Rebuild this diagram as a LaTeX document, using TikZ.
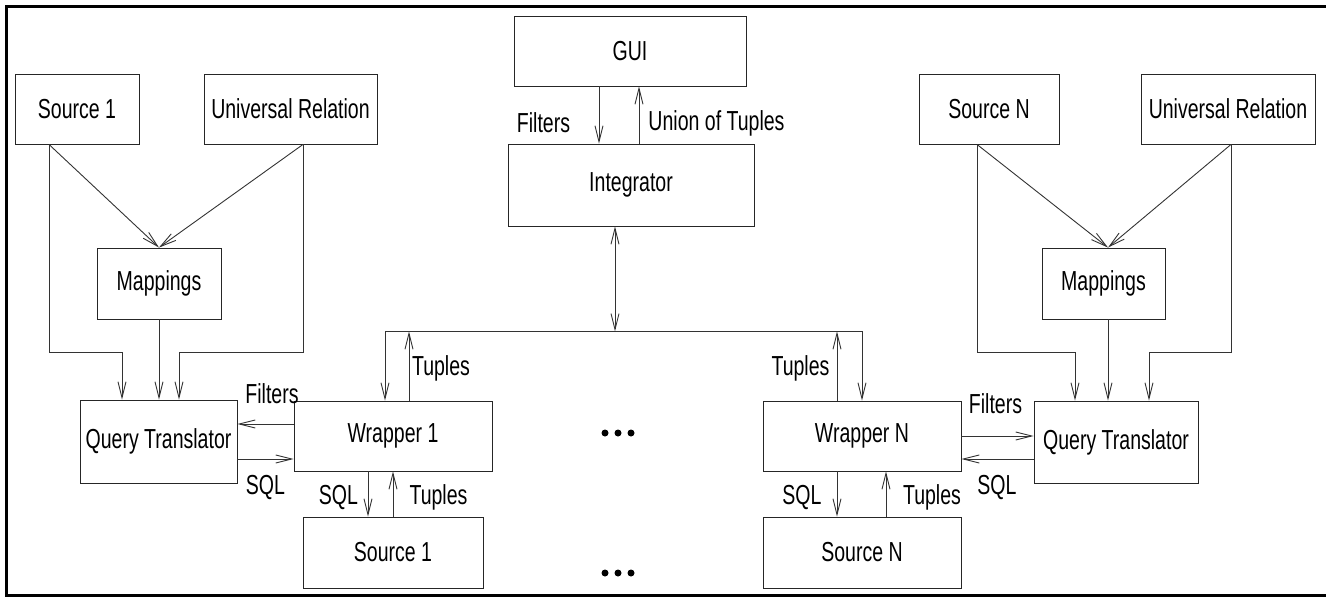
\documentclass[tikz,border=0pt]{standalone}
\usepackage{fontspec}
\setmainfont{Liberation Sans}[FakeStretch=0.71]
\usetikzlibrary{arrows.meta,calc}
\begin{document}
\begin{tikzpicture}[x=1pt,y=-1pt,
  txt/.style={font=\fontsize{27.5}{29}\selectfont},
  box/.style={txt,draw=black!85,line width=0.9pt,inner sep=0pt},
  lbl/.style={txt,inner sep=0pt},
  conn/.style={draw=black!80,line width=0.9pt},
  tip/.tip={Straight Barb[length=16pt,width=8pt]},
  arr/.style={conn,-tip},
  darr/.style={conn,tip-tip},
  frameline/.style={line width=3pt,black}]
\useasboundingbox (0,0) rectangle (1326,597);

% outer frame (left, top and bottom)
\draw[frameline] (1326,6) -- (6,6) -- (6,595) -- (1326,595);

% ---- boxes ----
\node[box,minimum width=232pt,minimum height=70pt] (GUI) at (630,51) {GUI};
\node[box,minimum width=246pt,minimum height=82pt] (Int) at (631,185) {Integrator};

\node[box,minimum width=124pt,minimum height=70pt] (S1t) at (77,109) {Source 1};
\node[box,minimum width=173pt,minimum height=70pt] (UR1) at (290.5,109) {Universal Relation};
\node[box,minimum width=124pt,minimum height=71pt] (Map1) at (159,283.5) {Mappings};
\node[box,minimum width=157pt,minimum height=83pt] (QT1) at (158.5,441.5) {Query Translator};
\node[box,minimum width=198pt,minimum height=70pt] (W1) at (393,436) {Wrapper 1};
\node[box,minimum width=180pt,minimum height=71pt] (S1b) at (393,552.5) {Source 1};

\node[box,minimum width=140pt,minimum height=70pt] (SNt) at (989,109) {Source N};
\node[box,minimum width=174pt,minimum height=70pt] (URN) at (1228,109) {Universal Relation};
\node[box,minimum width=123pt,minimum height=71pt] (MapN) at (1103.5,283.5) {Mappings};
\node[box,minimum width=164pt,minimum height=82pt] (QTN) at (1116,442) {Query Translator};
\node[box,minimum width=198pt,minimum height=70pt] (WN) at (862,436) {Wrapper N};
\node[box,minimum width=198pt,minimum height=71pt] (SNb) at (862,552.5) {Source N};

% ---- GUI <-> Integrator ----
\coordinate (gf) at ($(GUI.south)+(-31,0)$);
\coordinate (gu) at ($(GUI.south)+(9,0)$);
\draw[arr] (gf) -- (gf |- Int.north);
\draw[arr] (gu |- Int.north) -- (gu);
\node[lbl] (lgf) at (543.5,123) {Filters};
\node[lbl] (lgu) at (716.5,123) {Union of Tuples};

% ---- Integrator <-> bus ----
\coordinate (intb) at ($(Int.south)+(-16,0)$);
\coordinate (bus) at ($(Int.south)+(-16,105)$);
\draw[darr] (intb) -- (bus);
\draw[arr] (bus) -| ($(W1.north)+(-8,0)$);
\draw[arr] (bus) -| (WN.north);
\coordinate (w1t) at ($(W1.north)+(16,0)$);
\draw[arr] (w1t) -- (w1t |- bus);
\coordinate (wnt) at ($(WN.north)+(-25,0)$);
\draw[arr] (wnt) -- (wnt |- bus);
\node[lbl] (lw1t) at (441,368) {Tuples};
\node[lbl] (lwnt) at (800.5,368) {Tuples};

% ---- left mapping block ----
\coordinate (s1o) at ($(S1t.south)+(-28,0)$);
\coordinate (u1o) at ($(UR1.south)+(12.5,0)$);
\draw[arr] (s1o) -- (Map1.north);
\draw[arr] (u1o) -- (Map1.north);
\draw[arr] (s1o) |- ($(QT1.north)+(-36.5,-47)$) -- ($(QT1.north)+(-36.5,0)$);
\draw[arr] (u1o) |- ($(QT1.north)+(20.5,-47)$) -- ($(QT1.north)+(20.5,0)$);
\draw[arr] (Map1.south) -- (Map1.south |- QT1.north);

% ---- Wrapper 1 <-> Query Translator ----
\coordinate (f1) at ($(W1.west)+(0,-12)$);
\coordinate (q1) at ($(W1.west)+(0,23)$);
\draw[arr] (f1) -- (f1 -| QT1.east);
\draw[arr] (q1 -| QT1.east) -- (q1);
\node[lbl] (lf1) at (272,394) {Filters};
\node[lbl] (lq1) at (265.5,487) {SQL};

% ---- Wrapper 1 <-> Source 1 ----
\draw[arr] ($(W1.south)+(-25,0)$) -- ($(S1b.north)+(-25,0)$);
\draw[arr] (S1b.north) -- (W1.south);
\node[lbl] (ls1q) at (338.5,497) {SQL};
\node[lbl] (ls1t) at (438.5,497) {Tuples};

% ---- right mapping block ----
\coordinate (sno) at ($(SNt.south)+(-12,0)$);
\coordinate (uno) at ($(URN.south)+(3,0)$);
\coordinate (mni) at ($(MapN.north)+(4.5,0)$);
\draw[arr] (sno) -- (mni);
\draw[arr] (uno) -- (mni);
\draw[arr] (sno) |- ($(QTN.north)+(-41,-48)$) -- ($(QTN.north)+(-41,0)$);
\draw[arr] (uno) |- ($(QTN.north)+(33,-48)$) -- ($(QTN.north)+(33,0)$);
\coordinate (mno) at ($(MapN.south)+(4.5,0)$);
\draw[arr] (mno) -- (mno |- QTN.north);

% ---- Wrapper N <-> Query Translator ----
\coordinate (qn) at ($(WN.east)+(0,23)$);
\draw[arr] (WN.east) -- (WN.east -| QTN.west);
\draw[arr] (qn -| QTN.west) -- (qn);
\node[lbl] (lfn) at (995.5,404) {Filters};
\node[lbl] (lqn) at (997,487) {SQL};

% ---- Wrapper N <-> Source N ----
\draw[arr] ($(WN.south)+(-25,0)$) -- ($(SNb.north)+(-25,0)$);
\draw[arr] ($(SNb.north)+(24,0)$) -- ($(WN.south)+(24,0)$);
\node[lbl] (lsnq) at (802,497) {SQL};
\node[lbl] (lsnt) at (932,497) {Tuples};

% ---- ellipsis dots ----
\foreach \cy in {433,573}
  \foreach \cx in {605,618,631}
    \fill (\cx,\cy) circle (3.5pt);
\end{tikzpicture}
\end{document}
